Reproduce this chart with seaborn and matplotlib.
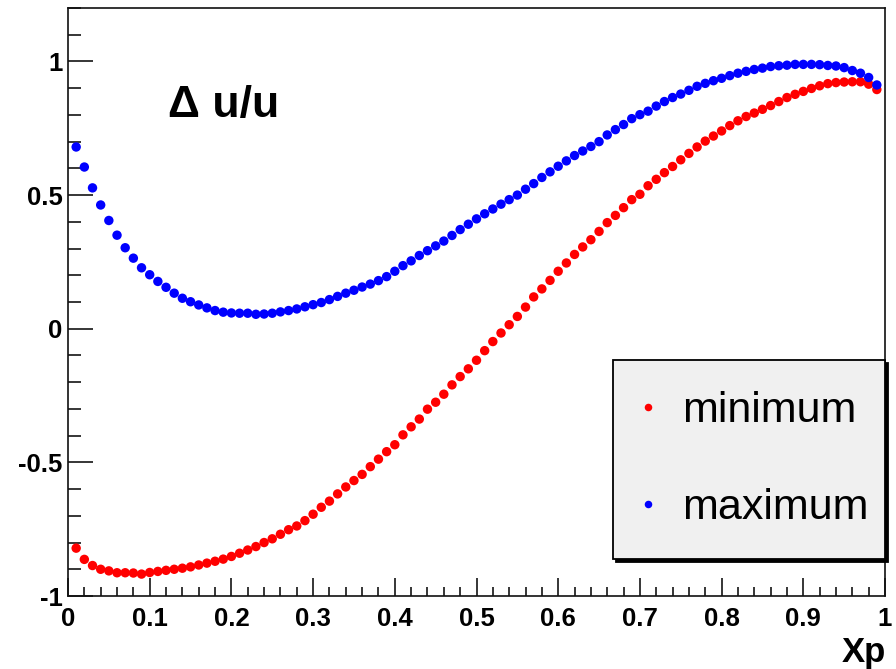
import numpy as np
import pandas as pd
import matplotlib
matplotlib.use("Agg")
import matplotlib.pyplot as plt
from matplotlib.ticker import MultipleLocator
import seaborn as sns

# Bjorken x grid
xp = [round(0.01 * i, 2) for i in range(1, 100)]

# Lower bound of Delta u / u
minimum = [
    -0.821, -0.863, -0.886, -0.900, -0.906, -0.913, -0.913, -0.914, -0.918, -0.912,
    -0.908, -0.904, -0.900, -0.896, -0.891, -0.884, -0.877, -0.870, -0.862, -0.852,
    -0.840, -0.828, -0.815, -0.800, -0.786, -0.769, -0.752, -0.738, -0.718, -0.694,
    -0.668, -0.645, -0.618, -0.592, -0.568, -0.545, -0.516, -0.488, -0.460, -0.434,
    -0.397, -0.367, -0.338, -0.301, -0.275, -0.245, -0.210, -0.179, -0.150, -0.118,
    -0.082, -0.048, -0.016, 0.015, 0.046, 0.081, 0.119, 0.149, 0.181, 0.215,
    0.246, 0.278, 0.306, 0.333, 0.364, 0.397, 0.424, 0.453, 0.483, 0.503,
    0.535, 0.559, 0.584, 0.607, 0.632, 0.656, 0.680, 0.702, 0.721, 0.740,
    0.760, 0.778, 0.794, 0.807, 0.821, 0.835, 0.850, 0.865, 0.877, 0.888,
    0.899, 0.909, 0.917, 0.921, 0.923, 0.924, 0.924, 0.915, 0.895,
]

# Upper bound of Delta u / u
maximum = [
    0.680, 0.605, 0.527, 0.463, 0.405, 0.350, 0.303, 0.264, 0.228, 0.202,
    0.177, 0.155, 0.133, 0.114, 0.101, 0.089, 0.078, 0.068, 0.062, 0.059,
    0.058, 0.058, 0.054, 0.055, 0.058, 0.063, 0.068, 0.074, 0.082, 0.090,
    0.098, 0.109, 0.121, 0.133, 0.144, 0.156, 0.167, 0.180, 0.195, 0.215,
    0.236, 0.254, 0.274, 0.292, 0.310, 0.328, 0.349, 0.371, 0.391, 0.411,
    0.430, 0.448, 0.466, 0.483, 0.500, 0.522, 0.543, 0.566, 0.587, 0.608,
    0.628, 0.648, 0.665, 0.682, 0.700, 0.725, 0.745, 0.764, 0.786, 0.801,
    0.814, 0.833, 0.850, 0.865, 0.878, 0.892, 0.907, 0.918, 0.928, 0.937,
    0.947, 0.956, 0.963, 0.970, 0.975, 0.981, 0.984, 0.986, 0.989, 0.989,
    0.989, 0.988, 0.985, 0.983, 0.977, 0.966, 0.956, 0.940, 0.912,
]

series_names = ["minimum", "maximum"]
series_colors = ["#ff0000", "#0000ff"]

df = pd.concat([
    pd.DataFrame({"Xp": xp, "value": minimum, "bound": series_names[0]}),
    pd.DataFrame({"Xp": xp, "value": maximum, "bound": series_names[1]}),
], ignore_index=True)

sns.set_style("ticks")
plt.rcParams["font.family"] = ["Liberation Sans", "DejaVu Sans"]
plt.rcParams["text.color"] = "black"
plt.rcParams["axes.labelcolor"] = "black"
plt.rcParams["xtick.color"] = "black"
plt.rcParams["ytick.color"] = "black"

fig = plt.figure(figsize=(8.96, 6.69), dpi=100)
ax = fig.add_axes([68 / 896, 1 - 596 / 669, (885 - 68) / 896, (596 - 8) / 669])

sns.scatterplot(
    data=df, x="Xp", y="value", hue="bound", hue_order=series_names,
    palette=dict(zip(series_names, series_colors)),
    s=46, linewidth=0, marker="o", ax=ax, legend=True,
)

ax.set_xlim(0, 1)
ax.set_ylim(-1, 1.2)

ax.xaxis.set_major_locator(MultipleLocator(0.1))
ax.xaxis.set_minor_locator(MultipleLocator(0.02))
ax.yaxis.set_major_locator(MultipleLocator(0.5))
ax.yaxis.set_minor_locator(MultipleLocator(0.1))
ax.xaxis.set_major_formatter(plt.FuncFormatter(lambda v, p: f"{v:g}"))
ax.yaxis.set_major_formatter(plt.FuncFormatter(lambda v, p: f"{v:g}"))

ax.tick_params(axis="x", which="major", direction="in", length=13, width=1.1,
               labelsize=18.5, pad=8, top=False)
ax.tick_params(axis="x", which="minor", direction="in", length=6.5, width=1.1, top=False)
ax.tick_params(axis="y", which="major", direction="in", length=18, width=1.1,
               labelsize=18.5, pad=4, right=False)
ax.tick_params(axis="y", which="minor", direction="in", length=9.4, width=1.1, right=False)
for lab in ax.get_xticklabels() + ax.get_yticklabels():
    lab.set_fontweight("bold")

for side in ["left", "bottom", "top", "right"]:
    ax.spines[side].set_visible(True)
    ax.spines[side].set_color("#111111")
    ax.spines[side].set_linewidth(1.2)

ax.set_xlabel("")
ax.set_ylabel("")
fig.text(886 / 896, 0.0, "Xp", fontsize=25, fontweight="bold",
         ha="right", va="bottom")

ax.text(0.122, 0.835, "Δ u/u", transform=ax.transAxes, fontsize=32,
        fontweight="bold", ha="left", va="center")

handles, labels = ax.get_legend_handles_labels()
leg = ax.legend(
    handles, labels, loc="upper left", mode="expand",
    bbox_to_anchor=(613 / 896, 1 - 557 / 669, 272 / 896, 197 / 669),
    bbox_transform=fig.transFigure,
    borderaxespad=0, fontsize=31, markerscale=0.8, handlelength=0.2,
    handletextpad=0.68, borderpad=0.72, labelspacing=1.33, frameon=True,
    fancybox=False, facecolor="#f0f0f0", edgecolor="black", framealpha=1,
    shadow={"color": "black", "alpha": 1},
)
leg.get_frame().set_linewidth(1.3)

fig.savefig("out.png", dpi=100)
